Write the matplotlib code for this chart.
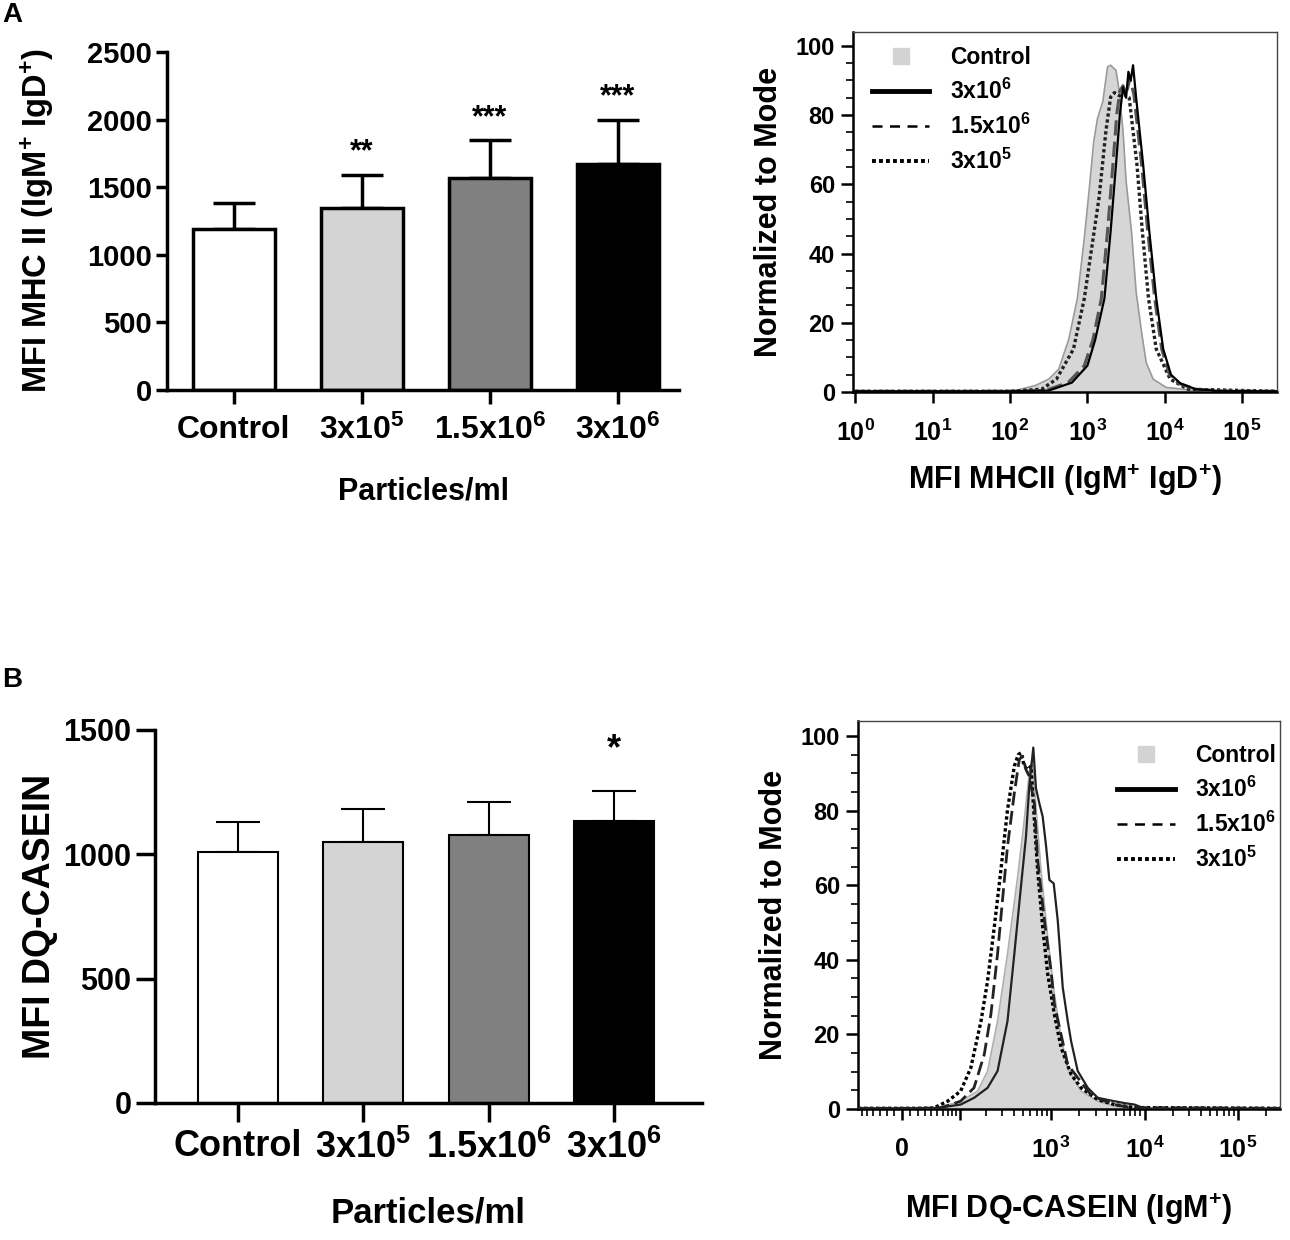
import matplotlib
matplotlib.use("Agg")
import matplotlib.pyplot as plt
from matplotlib.lines import Line2D
import numpy as np

plt.rcParams['font.family'] = ['Liberation Sans', 'DejaVu Sans']
plt.rcParams['font.weight'] = 'bold'
plt.rcParams['mathtext.fontset'] = 'custom'
plt.rcParams['mathtext.rm'] = 'Liberation Sans:bold'
plt.rcParams['mathtext.it'] = 'Liberation Sans:bold'
plt.rcParams['mathtext.bf'] = 'Liberation Sans:bold'

# bar data
groups = ['Control', '3x10$^{5}$', '1.5x10$^{6}$', '3x10$^{6}$']
bar_colors = ['white', '#d4d4d4', '#808080', 'black']

mhc_mean = [1190, 1345, 1565, 1675]
mhc_sd = [195, 245, 282, 322]
mhc_stars = ['', '**', '***', '***']

dq_mean = [1008, 1050, 1078, 1132]
dq_sd = [120, 134, 132, 123]
dq_stars = ['', '', '', '*']

# histogram A (log10 of MFI MHCII, % of mode)
ctrlA_log = [0.0, 1.5, 2.07, 2.33, 2.50, 2.63, 2.76, 2.87, 2.96, 3.03, 3.08, 3.13, 3.20, 3.26, 3.30, 3.37, 3.41, 3.46, 3.50, 3.57, 3.63, 3.70, 3.76, 3.85, 4.02, 4.46, 5.45]
ctrlA_y = [0.3, 0.3, 0.4, 1.9, 3.7, 6.6, 15.3, 27.0, 44.4, 60.0, 72.0, 79.0, 84.0, 93.9, 94.4, 92.9, 87.1, 75.5, 60.9, 46.4, 28.9, 17.3, 8.5, 3.7, 1.3, 0.3, 0.2]

solidA_log = [0.0, 2.0, 2.50, 2.80, 3.00, 3.10, 3.22, 3.30, 3.37, 3.42, 3.46, 3.50, 3.53, 3.56, 3.59, 3.63, 3.72, 3.80, 3.89, 3.98, 4.08, 4.20, 4.40, 4.70, 5.45]
solidA_y = [0.2, 0.2, 0.4, 2.7, 7.6, 15.0, 27.0, 46.4, 65.8, 80.3, 88.0, 85.0, 92.5, 90.0, 94.4, 85.0, 65.8, 46.4, 27.0, 12.4, 5.0, 2.5, 0.8, 0.3, 0.2]

dashA_log = [0.0, 2.0, 2.45, 2.75, 2.96, 3.07, 3.18, 3.26, 3.33, 3.38, 3.42, 3.46, 3.50, 3.55, 3.60, 3.70, 3.78, 3.87, 3.96, 4.06, 4.18, 4.40, 4.70, 5.45]
dashA_y = [0.2, 0.2, 0.4, 2.7, 7.6, 15.0, 27.0, 46.4, 65.8, 80.3, 87.0, 88.5, 86.0, 90.5, 86.0, 65.8, 46.4, 27.0, 12.4, 5.0, 2.5, 0.8, 0.3, 0.2]

dotA_log = [0.0, 2.0, 2.41, 2.60, 2.82, 2.96, 3.15, 3.24, 3.30, 3.35, 3.41, 3.47, 3.54, 3.64, 3.71, 3.79, 3.89, 4.07, 4.30, 5.45]
dotA_y = [0.2, 0.2, 0.8, 3.7, 12.4, 27.0, 56.0, 75.5, 85.2, 86.5, 85.6, 86.0, 85.0, 65.8, 46.4, 27.0, 12.4, 3.7, 0.8, 0.2]

# histogram B (MFI DQ-casein, biexponential axis, % of mode)
ctrlB_x = [-68, 20, 50, 102, 160, 207, 266, 341, 439, 517, 585, 630, 690, 781, 922, 1086, 1284, 1510, 2098, 3166, 4774, 7200, 280000]
ctrlB_y = [0.2, 0.2, 0.3, 2.1, 4.8, 10.2, 23.6, 41.6, 62.3, 77.5, 90.1, 94.0, 81.0, 64.0, 46.0, 30.8, 19.1, 11.0, 4.8, 2.1, 0.7, 0.3, 0.2]

solidB_x = [-68, 20, 50, 102, 146, 207, 266, 341, 404, 476, 539, 585, 646, 690, 749, 814, 886, 961, 1068, 1180, 1335, 1510, 1640, 1930, 2473, 3166, 4774, 6113, 7818, 9220, 10870, 280000]
solidB_y = [0.2, 0.2, 0.3, 1.2, 3.0, 5.7, 10.2, 23.6, 41.6, 59.6, 73.0, 86.5, 96.9, 86.0, 82.0, 78.4, 70.4, 61.4, 60.5, 50.6, 32.6, 23.6, 18.2, 10.2, 5.7, 3.0, 2.1, 1.6, 1.2, 0.5, 0.1, 0.1]

dashB_x = [-68, 20, 56, 102, 146, 190, 225, 266, 301, 341, 404, 457, 496, 539, 585, 663, 719, 849, 1000, 1086, 1510, 2650, 3437, 4774, 7200, 280000]
dashB_y = [0.2, 0.2, 0.3, 2.1, 5.7, 14.6, 25.4, 41.6, 56.0, 70.4, 84.7, 93.7, 94.6, 91.0, 89.2, 82.0, 66.8, 50.6, 37.1, 28.1, 11.9, 3.9, 2.5, 1.2, 0.4, 0.2]

dotB_x = [-68, 20, 44, 70, 102, 134, 175, 207, 245, 289, 341, 404, 445, 476, 517, 562, 610, 663, 719, 814, 922, 1086, 1284, 1640, 2098, 3166, 4774, 7818, 280000]
dotB_y = [0.2, 0.2, 0.3, 2.1, 4.8, 11.0, 23.6, 34.4, 48.8, 64.0, 80.2, 91.9, 95.0, 95.5, 91.9, 91.0, 91.9, 77.5, 64.0, 48.8, 36.2, 25.4, 16.4, 9.3, 5.7, 2.5, 1.2, 0.4, 0.2]

legend_labels = ['Control', '3x10$^{6}$', '1.5x10$^{6}$', '3x10$^{5}$']

BIEX_W = 51.5
B_XMIN, B_XMAX = -68, 280000


def biex_fwd(x):
    return np.arcsinh(np.asarray(x, dtype=float) / BIEX_W)


def biex_inv(y):
    return BIEX_W * np.sinh(np.asarray(y, dtype=float))


def bar_panel(ax, means, sds, stars, ymax, step, fs_tick, fs_lab, lw_edge, lw_err, cap, star_fs, star_off):
    x = np.arange(len(means))
    ax.errorbar(x, means, yerr=[np.zeros(len(sds)), sds], fmt='none', ecolor='black',
                elinewidth=lw_err, capsize=cap, capthick=lw_err, zorder=1)
    ax.bar(x, means, width=0.64, color=bar_colors, edgecolor='black', linewidth=lw_edge, zorder=2)
    for i, s in enumerate(stars):
        if s:
            ax.text(x[i], means[i] + sds[i] + star_off, s, ha='center', va='center',
                    fontsize=star_fs, fontweight='bold')
    ax.set_ylim(0, ymax)
    ax.set_yticks(np.arange(0, ymax + 1, step))
    ax.set_xticks(x)
    ax.set_xticklabels(groups, fontsize=fs_lab, fontweight='bold')
    ax.spines['top'].set_visible(False)
    ax.spines['right'].set_visible(False)
    for sp in ['left', 'bottom']:
        ax.spines[sp].set_linewidth(2.5)
    ax.tick_params(axis='y', labelsize=fs_tick, width=2.5, length=8, pad=3)
    ax.tick_params(axis='x', width=2.5, length=10, pad=8)


def hist_frame(ax):
    ax.spines['left'].set_linewidth(1.8)
    ax.spines['bottom'].set_linewidth(1.8)
    ax.spines['top'].set_linewidth(1.0)
    ax.spines['right'].set_linewidth(1.0)
    ax.spines['top'].set_color('#444444')
    ax.spines['right'].set_color('#444444')
    ax.set_ylim(0, 104)
    ax.set_yticks(np.arange(0, 101, 20))
    ax.set_yticks(np.arange(0, 101, 5), minor=True)
    ax.tick_params(axis='y', which='major', length=9, width=1.8, labelsize=17, pad=4)
    ax.tick_params(axis='y', which='minor', length=5, width=1.2)
    ax.tick_params(axis='x', which='major', length=8, width=1.8, labelsize=18, pad=12)
    ax.tick_params(axis='x', which='minor', length=5, width=1.2)
    ax.set_ylabel('Normalized to Mode', fontsize=22, fontweight='bold', labelpad=8)


def legend_handles():
    return [Line2D([], [], marker='s', ms=12, color='#d3d3d3', ls='none'),
            Line2D([], [], color='black', lw=3.5),
            Line2D([], [], color='black', lw=1.8, ls=(0, (4, 3))),
            Line2D([], [], color='black', lw=2.8, ls=(0, (1, 0.8)))]


fig = plt.figure(figsize=(12.9, 12.4), dpi=100)

# A left: MHC II bars
axA = fig.add_axes([0.1295, 0.6855, 0.397, 0.2726])
bar_panel(axA, mhc_mean, mhc_sd, mhc_stars, 2500, 500, 21, 23, 2.5, 2.5, 15, 22, 165)
axA.set_xlim(-0.52, 3.48)
axA.set_ylabel('MFI MHC II (IgM$^{+}$ IgD$^{+}$)', fontsize=23.5, fontweight='bold', labelpad=22)
axA.set_xlabel('Particles/ml', fontsize=22, fontweight='bold', labelpad=22)

# B left: DQ-casein bars
axB = fig.add_axes([0.1202, 0.1105, 0.424, 0.3008])
bar_panel(axB, dq_mean, dq_sd, dq_stars, 1500, 500, 22, 26, 1.5, 1.5, 16, 26, 165)
axB.set_xlim(-0.66, 3.7)
axB.tick_params(axis='y', length=14)
axB.tick_params(axis='x', length=14, pad=5)
axB.set_ylabel('MFI DQ-CASEIN', fontsize=27, fontweight='bold', labelpad=4)
axB.set_xlabel('Particles/ml', fontsize=25, fontweight='bold', labelpad=22)

# A right: MHCII histogram
axH1 = fig.add_axes([0.6612, 0.6839, 0.3287, 0.2903])
axH1.fill_between(10 ** np.array(ctrlA_log), ctrlA_y, color='#d6d6d6', lw=0, zorder=1)
axH1.plot(10 ** np.array(ctrlA_log), ctrlA_y, color='#9a9a9a', lw=1.2, zorder=2)
axH1.plot(10 ** np.array(dotA_log), dotA_y, color='#222222', lw=2.4, ls=(0, (1, 0.8)), zorder=3)
axH1.plot(10 ** np.array(dashA_log), dashA_y, color='#555555', lw=2.2, ls=(0, (5, 2)), zorder=4)
axH1.plot(10 ** np.array(solidA_log), solidA_y, color='black', lw=1.6, zorder=5)
axH1.set_xscale('log')
hist_frame(axH1)
axH1.set_xticks([10 ** k for k in range(6)])
axH1.set_xticklabels(['10$^{%d}$' % k for k in range(6)])
axH1.set_xlim(10 ** -0.03, 10 ** 5.45)
axH1.set_xlabel('MFI MHCII (IgM$^{+}$ IgD$^{+}$)', fontsize=22, fontweight='bold', labelpad=12)
axH1.legend(legend_handles(), legend_labels, loc='upper left', bbox_to_anchor=(0.045, 0.96),
            frameon=False, fontsize=16.5, handlelength=2.5, handletextpad=0.9,
            labelspacing=0.42, borderpad=0, borderaxespad=0)

# B right: DQ-casein histogram
axH2 = fig.add_axes([0.6651, 0.1056, 0.3271, 0.3129])
axH2.set_xscale('function', functions=(biex_fwd, biex_inv))
axH2.fill_between(ctrlB_x, ctrlB_y, color='#d6d6d6', lw=0, zorder=1)
axH2.plot(ctrlB_x, ctrlB_y, color='#b0b0b0', lw=1.2, zorder=2)
axH2.plot(dotB_x, dotB_y, color='black', lw=2.4, ls=(0, (1, 0.8)), zorder=3)
axH2.plot(dashB_x, dashB_y, color='#222222', lw=2.0, ls=(0, (5, 2)), zorder=4)
axH2.plot(solidB_x, solidB_y, color='#222222', lw=1.6, zorder=5)
hist_frame(axH2)
axH2.set_xticks([0, 100, 1000, 10000, 100000])
axH2.set_xticklabels(['0', '', '10$^{3}$', '10$^{4}$', '10$^{5}$'])
minor = [s * m * d for s in (-1, 1) for d in (10, 100) for m in range(1, 10)]
minor += [m * d for d in (1000, 10000) for m in range(2, 10)] + [200000]
minor = [v for v in minor if B_XMIN < v < B_XMAX]
axH2.set_xticks(minor, minor=True)
axH2.set_xlim(B_XMIN, B_XMAX)
axH2.set_xlabel('MFI DQ-CASEIN (IgM$^{+}$)', fontsize=22, fontweight='bold', labelpad=20)
axH2.legend(legend_handles(), legend_labels, loc='upper left', bbox_to_anchor=(0.615, 0.94),
            frameon=False, fontsize=16.5, handlelength=2.5, handletextpad=0.9,
            labelspacing=0.42, borderpad=0, borderaxespad=0)

fig.text(0.002, 0.988, 'A', fontsize=20, fontweight='bold', va='center')
fig.text(0.002, 0.452, 'B', fontsize=20, fontweight='bold', va='center')

fig.savefig('out.png', dpi=100)
